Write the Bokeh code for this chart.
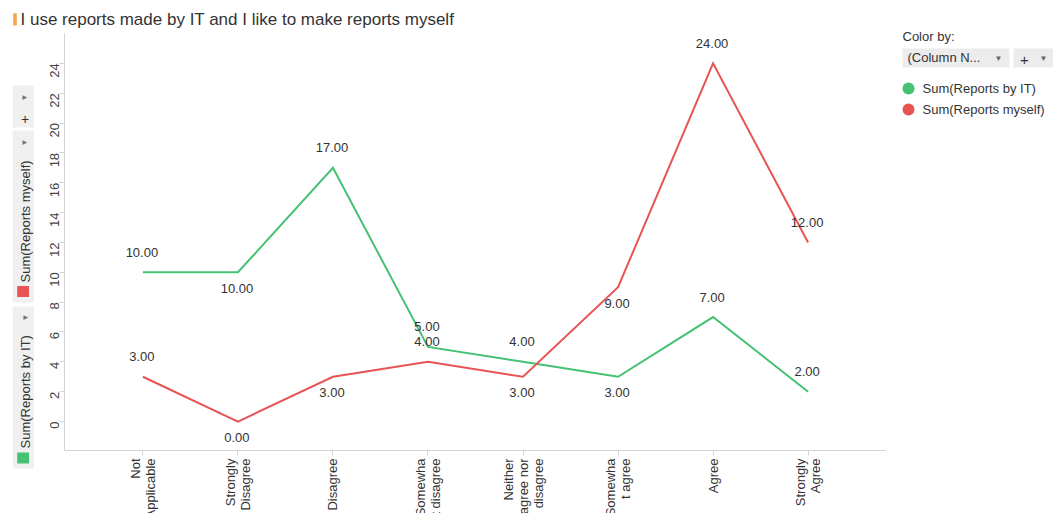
import math
from bokeh.plotting import figure
from bokeh.models import Range1d, FixedTicker, ColumnDataSource
from bokeh.layouts import row, column
from bokeh.core.properties import value
from bokeh.embed import file_html
from bokeh.resources import INLINE

# ---------------- data ----------------
title_text = "I use reports made by IT and I like to make reports myself"
categories = ["Not Applicable", "Strongly Disagree", "Disagree", "Somewhat disagree",
              "Neither agree nor disagree", "Somewhat agree", "Agree", "Strongly Agree"]
tick_labels = ["Not\nApplicable", "Strongly\nDisagree", "Disagree", "Somewha\nt disagree",
               "Neither\nagree nor\ndisagree", "Somewha\nt agree", "Agree", "Strongly\nAgree"]
series_names = ["Sum(Reports by IT)", "Sum(Reports myself)"]
reports_by_it = [10, 10, 17, 5, 4, 3, 7, 2]
reports_myself = [3, 0, 3, 4, 3, 9, 24, 12]
y_ticks = [0, 2, 4, 6, 8, 10, 12, 14, 16, 18, 20, 22, 24]
color_by_label = "Color by:"
color_by_choice = "(Column N..."

# ---------------- styles ----------------
series_colors = ["#45C172", "#E85454"]
label_side_it = [1, -1, 1, 1, 1, -1, 1, 1]        # 1 = above, -1 = below
label_side_myself = [1, -1, -1, 1, -1, -1, 1, 1]
FONT_NAME = "Liberation Sans"
FONT = value(FONT_NAME)
TEXT = "#333333"
AXIS = "#d4d4d4"


def bare(fig):
    fig.outline_line_color = None
    fig.background_fill_color = "white"
    fig.border_fill_color = "white"
    for g in fig.grid:
        g.grid_line_color = None
    return fig


def plain(width, height, xr, yr):
    fig = figure(width=width, height=height, x_range=xr, y_range=yr,
                 output_backend="svg", toolbar_location=None,
                 x_axis_location=None, y_axis_location=None,
                 min_border_left=0, min_border_right=0,
                 min_border_top=0, min_border_bottom=0)
    return bare(fig)


n = len(categories)
x_idx = list(range(n))
x_range = Range1d(-0.825, n - 1 + 0.825)

# ---------------- main chart ----------------
main = figure(width=852, height=425, x_range=x_range, y_range=Range1d(-1.94, 26.0),
              output_backend="svg", toolbar_location=None,
              min_border_left=30, min_border_right=0, min_border_top=0, min_border_bottom=8)
bare(main)
main.xgrid.grid_line_color = None
main.ygrid.grid_line_color = None

xa = main.xaxis[0]
# category ticks drawn as (label-less) minor ticks; the labels live in the strip below
xa.ticker = FixedTicker(ticks=[], minor_ticks=x_idx)
xa.major_label_standoff = 0
xa.major_tick_out = 0
xa.major_tick_in = 0
xa.minor_tick_out = 5
xa.minor_tick_in = 0
xa.axis_line_color = AXIS
xa.minor_tick_line_color = AXIS

ya = main.yaxis[0]
ya.ticker = FixedTicker(ticks=y_ticks)
ya.major_label_orientation = math.pi / 2
ya.major_label_text_font = FONT_NAME
ya.major_label_text_font_size = "13px"
ya.major_label_text_color = "#444444"
ya.major_label_standoff = 5
ya.major_tick_out = 5
ya.major_tick_in = 0
ya.minor_tick_out = 0
ya.minor_tick_in = 0
ya.axis_line_color = AXIS
ya.major_tick_line_color = AXIS

for vals, color, sides in [(reports_by_it, series_colors[0], label_side_it),
                           (reports_myself, series_colors[1], label_side_myself)]:
    src = ColumnDataSource(dict(
        x=x_idx, y=vals,
        label=[f"{v:.2f}" for v in vals],
        dy=[-20 if s > 0 else 16 for s in sides],
    ))
    main.line("x", "y", source=src, line_color=color, line_width=2, line_join="miter")
    main.text("x", "y", text="label", source=src, y_offset="dy", x_offset=-1,
              text_align="center", text_baseline="middle", text_font=FONT,
              text_font_size="13px", text_color=TEXT)

# ---------------- x tick labels strip ----------------
xlab = figure(width=852, height=55, x_range=x_range, y_range=Range1d(55, 0),
              output_backend="svg", toolbar_location=None,
              x_axis_location=None, y_axis_location=None,
              min_border_left=30, min_border_right=0, min_border_top=0, min_border_bottom=0)
bare(xlab)
xlab.text(x=x_idx, y=[0] * n, text=tick_labels, angle=math.pi / 2,
          text_align="right", text_baseline="middle", text_font=FONT,
          text_font_size="13px", text_color=TEXT, text_line_height=1.0)

# ---------------- title ----------------
head = plain(886, 33, Range1d(0, 886), Range1d(33, 0))
head.quad(left=[12.7], right=[16.3], top=[12.7], bottom=[25], fill_color="#F6A64E", line_color=None)
head.text(x=[20], y=[19], text=[title_text], text_align="left", text_baseline="middle",
          text_font=FONT, text_font_size="17px", text_color=TEXT)

# ---------------- left strip ----------------
strip = plain(34, 480, Range1d(0, 34), Range1d(480, 0))
strip.quad(left=[12.3, 12.3, 12.3], right=[34, 34, 34], top=[52, 97, 273], bottom=[94, 269, 435],
           fill_color="#f0f0f0", line_color=None)
strip.quad(left=[16.7, 16.7], right=[28.5, 28.5], top=[419, 252.5], bottom=[430, 263.5],
           fill_color=series_colors, line_color=None)
strip.text(x=[24.8, 24.8], y=[415, 249], text=series_names, angle=math.pi / 2,
           text_align="left", text_baseline="middle", text_font=FONT,
           text_font_size="13px", text_color=TEXT)
strip.text(x=[24, 24, 24.5], y=[64, 109, 284], text=["\u25bc"] * 3, angle=math.pi / 2,
           text_align="center", text_baseline="middle", text_font=FONT,
           text_font_size="8px", text_color="#777777")
strip.text(x=[24.5], y=[85], text=["+"], text_align="center", text_baseline="middle",
           text_font=FONT, text_font_size="14px", text_color=TEXT)

# ---------------- right legend panel ----------------
side = plain(167, 513, Range1d(0, 167), Range1d(513, 0))
side.text(x=[16], y=[36.3], text=[color_by_label], text_align="left", text_baseline="middle",
          text_font=FONT, text_font_size="13px", text_color=TEXT)
side.quad(left=[16, 127], right=[123, 167], top=[48, 48], bottom=[67, 67],
          fill_color="#ececec", line_color=None)
side.text(x=[21], y=[57.3], text=[color_by_choice], text_align="left", text_baseline="middle",
          text_font=FONT, text_font_size="13px", text_color=TEXT)
side.text(x=[112, 157], y=[57.7, 58], text=["\u25bc", "\u25bc"], text_align="center",
          text_baseline="middle", text_font=FONT, text_font_size="8px", text_color="#666666")
side.text(x=[138], y=[59], text=["+"], text_align="center", text_baseline="middle",
          text_font=FONT, text_font_size="15px", text_color=TEXT)
side.scatter(x=[22, 22], y=[88, 109], size=12, marker="circle", fill_color=series_colors,
             line_color=None)
side.text(x=[36, 36], y=[88, 109], text=series_names, text_align="left", text_baseline="middle",
          text_font=FONT, text_font_size="13px", text_color=TEXT)

layout = row(column(head, row(strip, column(main, xlab))), side)

open("out.html", "w").write(file_html(layout, INLINE))
